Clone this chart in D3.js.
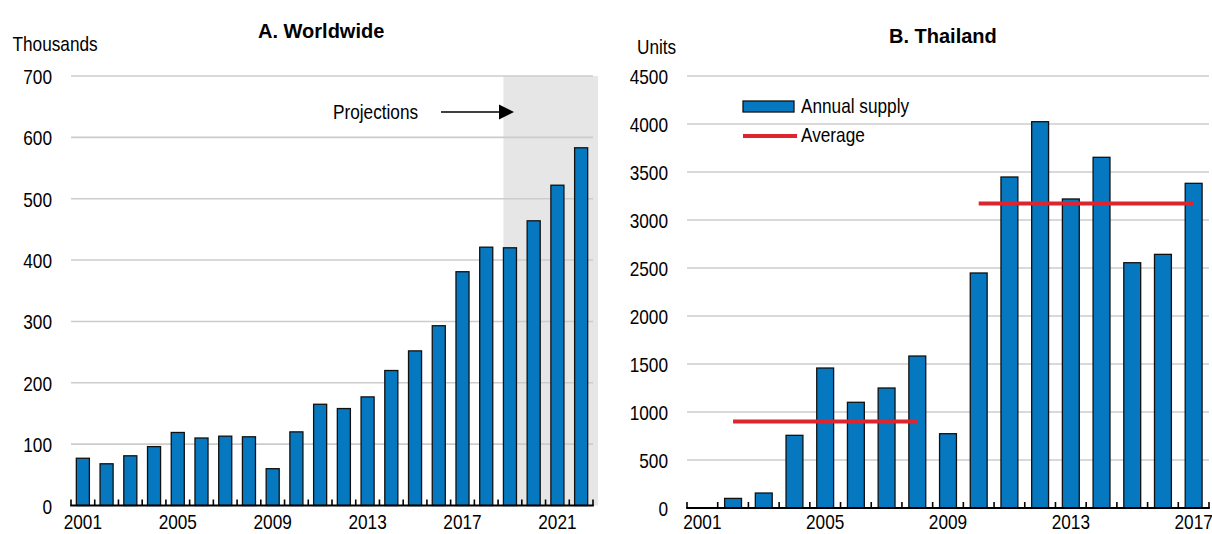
<!DOCTYPE html>
<html>
<head>
<meta charset="utf-8">
<script src="https://cdn.jsdelivr.net/npm/d3@7"></script>
<style>
  html, body { margin: 0; padding: 0; background: #ffffff; }
  svg { display: block; }
</style>
</head>
<body>
<svg id="chart" width="1212" height="534"></svg>
<script>
// ---------------- DATA ----------------
const worldYears = ["2001","2002","2003","2004","2005","2006","2007","2008","2009","2010","2011",
                    "2012","2013","2014","2015","2016","2017","2018","2019","2020","2021","2022"];
const worldValues = [77, 68, 81, 96, 119, 110, 113, 112, 60, 120, 165,
                     158, 177, 220, 252, 293, 381, 421, 420, 464, 522, 583];
const worldTicks = [0, 100, 200, 300, 400, 500, 600, 700];
const worldYearLabels = ["2001","2005","2009","2013","2017","2021"];
const projectionStart = "2019";

const thaiYears = ["2001","2002","2003","2004","2005","2006","2007","2008","2009",
                   "2010","2011","2012","2013","2014","2015","2016","2017"];
const thaiValues = [0, 100, 156, 757, 1458, 1101, 1250, 1583, 774,
                    2448, 3448, 4024, 3219, 3653, 2555, 2642, 3382];
const thaiTicks = [0, 500, 1000, 1500, 2000, 2500, 3000, 3500, 4000, 4500];
const thaiYearLabels = ["2001","2005","2009","2013","2017"];
const avgFrom = ["2002", "2010"];
const avgTo = ["2008", "2017"];
const avgValues = [900, 3172];

// ---------------- STYLE ----------------
const BLUE = "#0578c0";
const RED = "#dd2530";
const GRID = "#cccccc";
const SHADE = "#e6e6e6";

function hasFont(name) {
  const c = document.createElement("canvas").getContext("2d");
  c.font = "40px monospace";
  const w1 = c.measureText("Thousands 0123").width;
  c.font = `40px "${name}", monospace`;
  const w2 = c.measureText("Thousands 0123").width;
  return Math.abs(w1 - w2) > 0.5;
}
const NARROW_OK = hasFont("Liberation Sans Narrow");
const NARROW_FAMILY = NARROW_OK ? '"Liberation Sans Narrow", "Arial Narrow", sans-serif'
                                : '"Liberation Sans", Arial, sans-serif';
const NARROW_SCALE = NARROW_OK ? 1 : 0.82;
const FS = 21;

function narrow(sel) {
  sel.style("font-family", NARROW_FAMILY).style("font-size", FS + "px").attr("fill", "#000");
  if (NARROW_SCALE !== 1) {
    sel.each(function() {
      const t = d3.select(this);
      const x = +t.attr("x") || 0, y = +t.attr("y") || 0;
      t.attr("x", 0).attr("y", 0)
       .attr("transform", `translate(${x},${y}) scale(${NARROW_SCALE},1)`);
    });
  }
  return sel;
}

const svg = d3.select("#chart");

function panel(cfg) {
  const g = svg.append("g");
  const x = d3.scaleBand().domain(cfg.years).range([cfg.x0, cfg.x1])
              .paddingInner(0.45).paddingOuter(0.225);
  const y = d3.scaleLinear().domain([0, cfg.ticks[cfg.ticks.length - 1]]).range([cfg.y0, cfg.yTop]);

  // projection shade
  if (cfg.shadeFrom) {
    g.append("rect")
      .attr("x", x(cfg.shadeFrom))
      .attr("y", y(cfg.ticks[cfg.ticks.length - 1]))
      .attr("width", cfg.x1 + 5 - x(cfg.shadeFrom))
      .attr("height", y(0) - y(cfg.ticks[cfg.ticks.length - 1]))
      .attr("fill", SHADE);
  }

  // gridlines + y labels
  const yAxis = d3.axisLeft(y).tickValues(cfg.ticks).tickSize(0).tickPadding(19).tickFormat(d3.format("d"));
  const ga = g.append("g").attr("transform", `translate(${cfg.x0},0)`).call(yAxis);
  ga.select(".domain").remove();
  ga.selectAll(".tick text").attr("dy", "0.36em");
  narrow(ga.selectAll(".tick text"));

  g.append("g").selectAll("line").data(cfg.ticks.filter(d => d !== 0)).join("line")
    .attr("x1", cfg.x0).attr("x2", cfg.x1)
    .attr("y1", d => y(d)).attr("y2", d => y(d))
    .attr("stroke", GRID).attr("stroke-width", 1.6);

  // bars
  g.append("g").selectAll("rect").data(cfg.years.map((yr, i) => ({yr, v: cfg.values[i]})).filter(d => d.v > 0))
    .join("rect")
    .attr("x", d => x(d.yr))
    .attr("y", d => y(d.v))
    .attr("width", x.bandwidth())
    .attr("height", d => y(0) - y(d.v))
    .attr("fill", BLUE)
    .attr("stroke", "#111")
    .attr("stroke-width", 1.3);

  // x axis line and boundary ticks
  const step = x.step();
  const bounds = cfg.years.map(d => x(d) - step * x.paddingInner() / 2);
  bounds.push(cfg.x1);
  g.append("g").selectAll("line").data(bounds).join("line")
    .attr("x1", d => d).attr("x2", d => d)
    .attr("y1", y(0)).attr("y2", y(0) - 6)
    .attr("stroke", "#000").attr("stroke-width", 1.6);
  g.append("line").attr("x1", cfg.x0 - 0.8).attr("x2", cfg.x1 + 0.8)
    .attr("y1", y(0)).attr("y2", y(0)).attr("stroke", "#000").attr("stroke-width", 2);

  // x labels
  const xAxis = d3.axisBottom(x).tickValues(cfg.yearLabels).tickSize(0).tickPadding(0);
  const gx = g.append("g").attr("transform", `translate(0,${y(0)})`).call(xAxis);
  gx.select(".domain").remove();
  gx.selectAll(".tick text").attr("dy", null).attr("y", cfg.labelDy);
  narrow(gx.selectAll(".tick text"));

  // unit label
  narrow(g.append("text").attr("x", cfg.unitX).attr("y", cfg.unitY).text(cfg.unit));
  // title
  g.append("text").attr("x", cfg.titleX).attr("y", cfg.titleY).text(cfg.title)
    .style("font-family", '"Liberation Sans", Arial, sans-serif')
    .style("font-weight", "bold").style("font-size", "20px").attr("fill", "#000");

  return {g, x, y};
}

// Panel A
const A = panel({
  years: worldYears, values: worldValues, ticks: worldTicks, yearLabels: worldYearLabels,
  x0: 71, x1: 593, y0: 505.5, yTop: 76, shadeFrom: projectionStart, labelDy: 23.8,
  unit: "Thousands", unitX: 12.5, unitY: 51, title: "A. Worldwide", titleX: 258, titleY: 37.5
});

// Projections annotation
narrow(A.g.append("text").attr("x", 333).attr("y", 118.5).text("Projections"));
A.g.append("line").attr("x1", 441).attr("x2", 500).attr("y1", 112).attr("y2", 112)
  .attr("stroke", "#000").attr("stroke-width", 1.6);
A.g.append("path").attr("d", "M499,104.5 L514,112 L499,119.5 Z").attr("fill", "#000");

// Panel B
const B = panel({
  years: thaiYears, values: thaiValues, ticks: thaiTicks, yearLabels: thaiYearLabels,
  x0: 687, x1: 1209, y0: 508, yTop: 76, shadeFrom: null, labelDy: 21.3,
  unit: "Units", unitX: 637, unitY: 54, title: "B. Thailand", titleX: 889, titleY: 42.5
});

// averages
B.g.append("g").selectAll("line").data(avgValues.map((v, i) => ({v, a: avgFrom[i], b: avgTo[i]}))).join("line")
  .attr("x1", d => B.x(d.a) + B.x.bandwidth() / 2)
  .attr("x2", d => B.x(d.b) + B.x.bandwidth() / 2)
  .attr("y1", d => B.y(d.v)).attr("y2", d => B.y(d.v))
  .attr("stroke", RED).attr("stroke-width", 4);

// legend
const lg = B.g.append("g");
lg.append("rect").attr("x", 743).attr("y", 101).attr("width", 51).attr("height", 11)
  .attr("fill", BLUE).attr("stroke", "#111").attr("stroke-width", 1.3);
lg.append("line").attr("x1", 743).attr("x2", 797).attr("y1", 136).attr("y2", 136)
  .attr("stroke", RED).attr("stroke-width", 4);
narrow(lg.append("text").attr("x", 801).attr("y", 113).text("Annual supply"));
narrow(lg.append("text").attr("x", 801).attr("y", 142).text("Average"));
</script>
</body>
</html>
